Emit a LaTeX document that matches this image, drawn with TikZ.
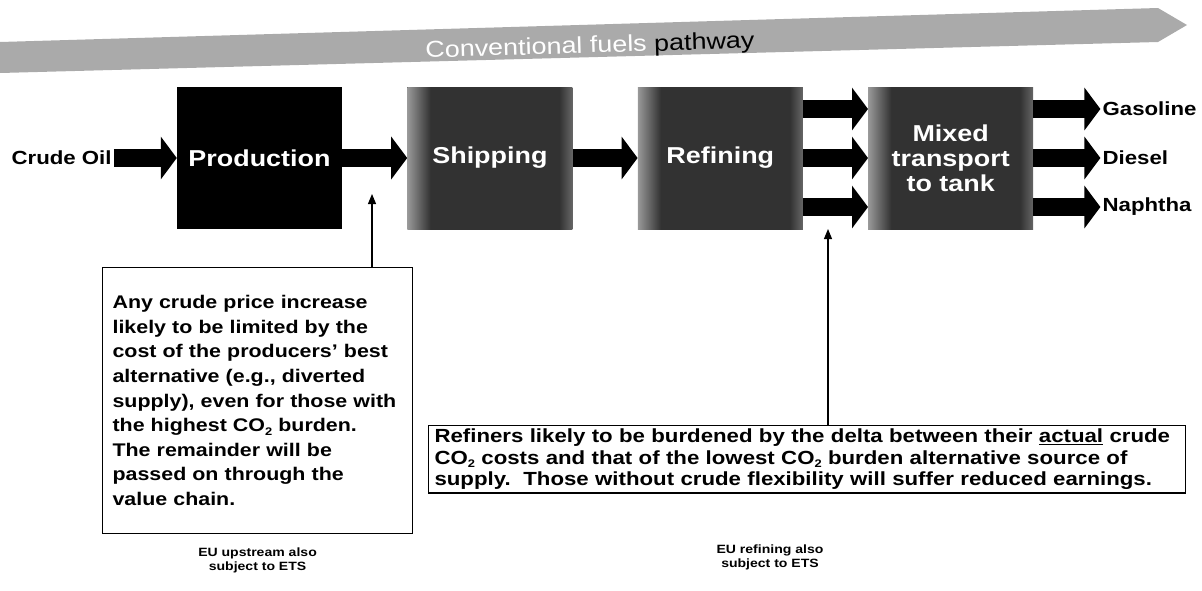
\documentclass[tikz,border=0pt]{standalone}
\usepackage{fontspec}
\setmainfont{Liberation Sans}[FakeStretch=1.17]
\usepackage{tikz}
\usetikzlibrary{
  arrows.meta,
  positioning,
  calc
}
\definecolor{bandgray}{RGB}{170,170,170}
\definecolor{stagegray}{RGB}{50,50,50}
\pgfdeclarehorizontalshading{stageshade}{100bp}{
  color(0bp)=(black!40); color(25bp)=(black!40); color(32bp)=(stagegray);
  color(71bp)=(stagegray); color(75bp)=(black!60); color(100bp)=(black!60)}
\newcommand{\boxfont}{\fontsize{23}{25}\selectfont\bfseries}
\newcommand{\callfont}{\fontsize{18.3}{24.6}\selectfont\bfseries}
\newcommand{\COtwo}{CO\raisebox{-0.35ex}{\fontsize{11}{11}\selectfont 2}}
\tikzset{
  stagebox/.style={fill=stagegray, inner sep=2pt,
    minimum width=165pt, minimum height=142pt,
    align=center, text=white, font=\boxfont},
  shadedstage/.style={stagebox, shading=stageshade},
  callbox/.style={draw, line width=1.1pt, fill=white,
    align=left, font=\callfont, inner xsep=10pt},
  fatarr/.style={line width=18pt, -{Triangle[length=16pt,width=42pt]}},
  pointer/.style={line width=1.1pt, -{Triangle[length=10pt,width=8pt]}},
}

\begin{document}
\begin{tikzpicture}[x=1pt, y=-1pt,
  lbl/.style={font=\fontsize{19}{21}\selectfont\bfseries, inner sep=2pt},
  etsnote/.style={font=\fontsize{12}{14}\selectfont\bfseries, align=center}
]
  \useasboundingbox (0,0) rectangle (1202,590);

  % Pathway banner
  \fill[bandgray] (0,42) -- (1158,8) -- (1187,25) -- (1158,42) -- (0,73) -- cycle;
  \node[rotate=1.7, text=white, font=\fontsize{23}{25}\selectfont] (band)
    at (590,47) {Conventional fuels \textcolor{black}{pathway}};

  % Four stages, equal gaps
  \node[stagebox, fill=black] (prod) at (259.5,158) {Production};
  \node[shadedstage, right=65pt of prod] (ship) {Shipping};
  \node[shadedstage, right=65pt of ship] (ref) {Refining};
  \node[shadedstage, right=65pt of ref] (mix) {Mixed\\transport\\to tank};

  % Flows
  \node[lbl, left=63pt of prod] (crude) {Crude Oil};
  \draw[fatarr] (crude) -- (prod);
  \draw[fatarr] (prod) -- (ship);
  \draw[fatarr] (ship) -- (ref);
  \foreach \dy in {49,0,-49}
    \draw[fatarr] ([yshift=\dy pt]ref.east) -- ([yshift=\dy pt]mix.west);
  \foreach \name/\txt/\dy in {gas/Gasoline/49, dsl/Diesel/0, nap/Naphtha/-49} {
    \node[lbl, anchor=west] (\name) at ([xshift=67pt, yshift=\dy pt]mix.east) {\txt};
    \draw[fatarr] (mix.east |- \name) -- (\name.west);
  }

  % Callouts
  \node[callbox, anchor=north west, minimum width=310pt, minimum height=266pt,
        text width=290pt] (upnote) at (102,267)
    {Any crude price increase\\
     likely to be limited by the\\
     cost of the producers’ best\\
     alternative (e.g., diverted\\
     supply), even for those with\\
     the highest \COtwo{} burden.\\
     The remainder will be\\
     passed on through the\\
     value chain.\\[12pt]};
  \node[callbox, anchor=north west, inner xsep=6pt, minimum width=757pt,
        text width=745pt, font=\fontsize{19}{21.5}\selectfont\bfseries] (refnote)
    at (428,425)
    {Refiners likely to be burdened by the delta between their \underline{actual} crude\\
     \COtwo{} costs and that of the lowest \COtwo{} burden alternative source of\\
     supply.\ \ Those without crude flexibility will suffer reduced earnings.};

  \coordinate (upptr) at (372,194);
  \coordinate (refptr) at (828,229);
  \draw[pointer] (upnote.north -| upptr) -- (upptr);
  \draw[pointer] (refnote.north -| refptr) -- (refptr);

  % Notes
  \node[etsnote, below=10pt of upnote] (upets) {EU upstream also\\subject to ETS};
  \node[etsnote] (refets) at (770,557) {EU refining also\\subject to ETS};
\end{tikzpicture}
\end{document}
